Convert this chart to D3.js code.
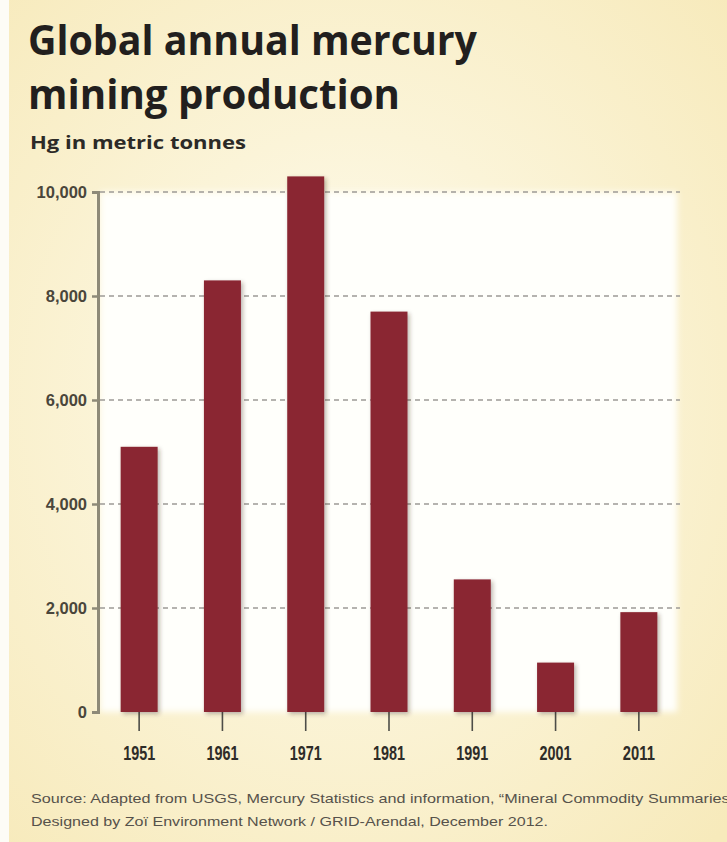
<!DOCTYPE html>
<html>
<head>
<meta charset="utf-8">
<script src="https://cdn.jsdelivr.net/npm/d3@7"></script>
<style>
  html, body { margin: 0; padding: 0; background: #fbf5dc; }
  svg { display: block; }
</style>
</head>
<body>
<svg id="chart" width="727" height="842"></svg>
<script>
// Global mercury mine production, metric tonnes
const years = ["1951", "1961", "1971", "1981", "1991", "2001", "2011"];
const production = [5100, 8300, 10300, 7700, 2550, 950, 1920];
const yTicks = [0, 2000, 4000, 6000, 8000, 10000];

const titleLines = ["Global annual mercury", "mining production"];
const subtitle = "Hg in metric tonnes";
const sourceLines = [
  "Source: Adapted from USGS, Mercury Statistics and information, \u201CMineral Commodity Summaries\u201D",
  "Designed by Zo\u00EF Environment Network / GRID-Arendal, December 2012."
];

const W = 727, H = 842;
const plot = { left: 98, right: 680, top: 192, bottom: 712 };

const svg = d3.select("#chart");
const defs = svg.append("defs");

// warm paper background, lighter towards the middle
const bg = defs.append("radialGradient").attr("id", "paper")
  .attr("cx", "0.48").attr("cy", "0.48").attr("r", "0.72");
bg.append("stop").attr("offset", "0").attr("stop-color", "#fffdf4");
bg.append("stop").attr("offset", "0.45").attr("stop-color", "#fbf4d8");
bg.append("stop").attr("offset", "1").attr("stop-color", "#f7eabb");

defs.append("filter").attr("id", "soft")
  .attr("x", "-5%").attr("y", "-5%").attr("width", "110%").attr("height", "110%")
  .append("feGaussianBlur").attr("stdDeviation", 3);

const shadow = defs.append("filter").attr("id", "barShadow")
  .attr("x", "-30%").attr("y", "-10%").attr("width", "160%").attr("height", "130%");
shadow.append("feDropShadow").attr("dx", 2).attr("dy", 2)
  .attr("stdDeviation", 2).attr("flood-color", "#3a2a20").attr("flood-opacity", 0.35);

svg.append("rect").attr("width", W).attr("height", H).attr("fill", "url(#paper)");
svg.append("rect").attr("width", 9).attr("height", H).attr("fill", "#fdfcf6");

// white panel behind the bars
svg.append("rect")
  .attr("x", plot.left + 2).attr("y", plot.top)
  .attr("width", plot.right - plot.left - 5).attr("height", plot.bottom - plot.top)
  .attr("fill", "#fffffb").attr("filter", "url(#soft)");

const x = d3.scaleBand().domain(years).range([plot.left, plot.right])
  .paddingInner(0.556).paddingOuter(0.272);
const y = d3.scaleLinear().domain([0, 10000]).range([plot.bottom, plot.top]);

// dashed gridlines
svg.append("g").selectAll("line")
  .data(yTicks.filter(d => d > 0))
  .join("line")
  .attr("x1", plot.left + 2).attr("x2", plot.right)
  .attr("y1", d => y(d)).attr("y2", d => y(d))
  .attr("stroke", "#9d9b96").attr("stroke-width", 1.6)
  .attr("stroke-dasharray", "5,4");

// x axis: short ticks hanging below each bar
const xAxis = svg.append("g")
  .attr("transform", `translate(0,${plot.bottom})`)
  .call(d3.axisBottom(x).tickSize(19).tickPadding(15));
xAxis.select(".domain").remove();
xAxis.selectAll(".tick line").attr("stroke", "#4d4d48").attr("stroke-width", 1.6);
xAxis.selectAll(".tick text")
  .attr("font-family", "'Liberation Sans', Arial, sans-serif")
  .attr("font-weight", "bold").attr("font-size", 20)
  .attr("fill", "#2e2c28")
  .attr("textLength", 32).attr("lengthAdjust", "spacingAndGlyphs");

// bars
svg.append("g").selectAll("rect")
  .data(years.map((yr, i) => ({ yr, v: production[i] })))
  .join("rect")
  .attr("x", d => x(d.yr))
  .attr("y", d => y(d.v))
  .attr("width", x.bandwidth())
  .attr("height", d => y(0) - y(d.v))
  .attr("fill", "#8a2530")
  .attr("filter", "url(#barShadow)");

// y axis
const yAxis = svg.append("g")
  .attr("transform", `translate(${plot.left},0)`)
  .call(d3.axisLeft(y).tickValues(yTicks).tickFormat(d3.format(","))
    .tickSize(6).tickPadding(5));
yAxis.select(".domain").attr("stroke", "#8e8a78").attr("stroke-width", 3);
yAxis.selectAll(".tick line").attr("stroke", "#8e8a78").attr("stroke-width", 2.5);
yAxis.selectAll(".tick text")
  .attr("font-family", "'Liberation Sans', Arial, sans-serif")
  .attr("font-weight", "bold").attr("font-size", 16.5)
  .attr("fill", "#4a463b");

// title block
const title = svg.append("g")
  .attr("font-family", "'Open Sans', 'Noto Sans', sans-serif")
  .attr("font-weight", 700).attr("fill", "#221f1e");
title.append("text").attr("x", 28).attr("y", 55).attr("font-size", 42)
  .attr("textLength", 449).attr("lengthAdjust", "spacingAndGlyphs")
  .text(titleLines[0]);
title.append("text").attr("x", 28).attr("y", 109).attr("font-size", 42)
  .attr("textLength", 372).attr("lengthAdjust", "spacingAndGlyphs")
  .text(titleLines[1]);
title.append("text").attr("x", 30).attr("y", 149).attr("font-size", 18)
  .attr("fill", "#2c2a27")
  .attr("textLength", 216).attr("lengthAdjust", "spacingAndGlyphs")
  .text(subtitle);

// source note
const note = svg.append("g")
  .attr("font-family", "'Liberation Sans', Arial, sans-serif")
  .attr("font-size", 13).attr("fill", "#56524b");
note.append("text").attr("x", 31).attr("y", 803)
  .attr("textLength", 704).attr("lengthAdjust", "spacingAndGlyphs")
  .text(sourceLines[0]);
note.append("text").attr("x", 31).attr("y", 826)
  .attr("textLength", 517).attr("lengthAdjust", "spacingAndGlyphs")
  .text(sourceLines[1]);
</script>
</body>
</html>
